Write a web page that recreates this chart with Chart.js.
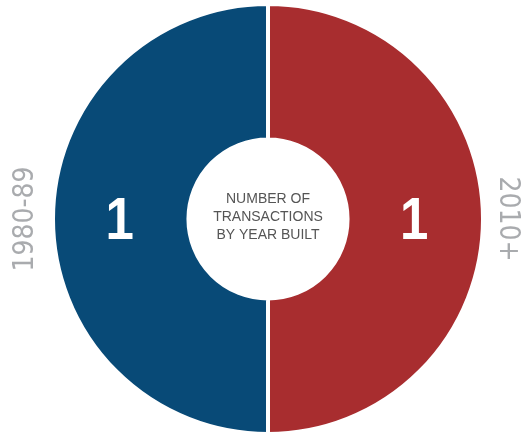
<!DOCTYPE html>
<html>
<head>
<meta charset="utf-8">
<script src="https://cdn.jsdelivr.net/npm/chart.js@4"></script>
<style>
  html, body { margin: 0; padding: 0; background: #fff; }
  #wrap { width: 531px; height: 437px; }
</style>
</head>
<body>
<div id="wrap"><canvas id="yearBuilt" width="531" height="437"></canvas></div>
<script>
// slices go clockwise from the top, so the right half comes first
const categories = ["2010+", "1980-89"];
const transactions = [1, 1];
const colors = ['#a82d2f', '#084a77'];
const centerText = ["NUMBER OF", "TRANSACTIONS", "BY YEAR BUILT"];

const CONDENSED = '"DejaVu Sans Condensed", "Liberation Sans Narrow", sans-serif';

const labelPlugin = {
    id: 'labels',
    afterDatasetsDraw(chart) {
        const ctx = chart.ctx;
        const meta = chart.getDatasetMeta(0);
        ctx.save();
        ctx.textAlign = 'center';
        ctx.textBaseline = 'middle';

        // counts inside the slices (narrow, tall digits)
        ctx.fillStyle = '#ffffff';
        ctx.font = 'bold 60px "Liberation Sans Narrow", "Liberation Sans", sans-serif';
        meta.data.forEach((arc, i) => {
            const p = arc.tooltipPosition();
            ctx.save();
            ctx.translate(p.x - 1, p.y + 3);
            ctx.scale(0.85, 1);
            ctx.fillText(String(transactions[i]), 0, 0);
            ctx.restore();
        });

        // category names outside, rotated along the ring
        const first = meta.data[0];
        const cx = first.x, cy = first.y, r = first.outerRadius;
        ctx.fillStyle = '#a9abae';
        ctx.font = '28px ' + CONDENSED;
        ctx.save();
        ctx.translate(cx + r + 24, cy);
        ctx.rotate(Math.PI / 2);
        ctx.fillText(categories[0], 0, 0);
        ctx.restore();
        ctx.save();
        ctx.translate(cx - r - 27, cy);
        ctx.rotate(-Math.PI / 2);
        ctx.fillText(categories[1], 0, 0);
        ctx.restore();

        // centre caption
        ctx.fillStyle = '#555555';
        ctx.font = '14px "Liberation Sans", Arial, sans-serif';
        centerText.forEach((line, i) => {
            ctx.fillText(line, cx, cy + (i - 1) * 18 - 2);
        });
        ctx.restore();
    }
};

new Chart(document.getElementById('yearBuilt'), {
    type: 'doughnut',
    data: {
        labels: categories,
        datasets: [{
            data: transactions,
            backgroundColor: colors,
            borderColor: '#ffffff',
            borderWidth: 4
        }]
    },
    options: {
        responsive: false,
        animation: false,
        cutout: '37%',
        layout: { padding: { top: 2, bottom: 1, left: 51, right: 46 } },
        plugins: {
            legend: { display: false },
            tooltip: { enabled: false }
        }
    },
    plugins: [labelPlugin]
});
</script>
</body>
</html>
